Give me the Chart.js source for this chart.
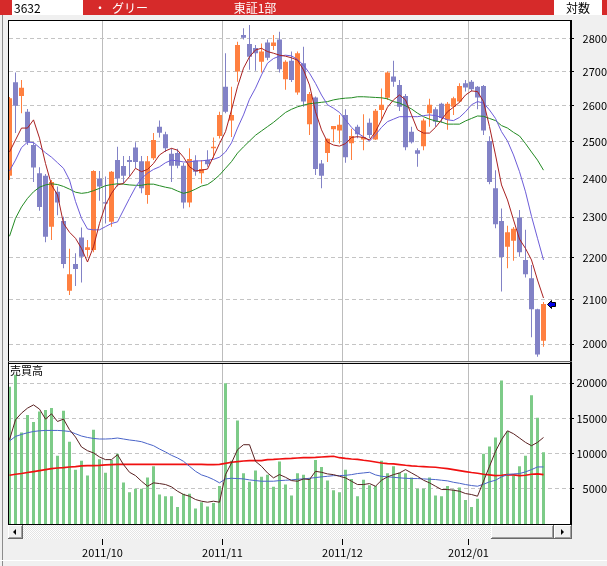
<!DOCTYPE html>
<html><head><meta charset="utf-8">
<style>html,body{margin:0;padding:0;background:#f0f0f0;overflow:hidden}canvas{display:block}</style>
<script src="https://cdn.jsdelivr.net/npm/chart.js@4.4.1/dist/chart.umd.min.js"></script>
</head><body>
<canvas id="c" width="607" height="566"></canvas>
<script>
// ---------- data ----------
const stockCode = '3632';
const stockName = 'グリー';
const marketName = '東証1部';
const scaleMode = '対数';
const volumeTitle = '売買高';

const monthLabels = ['2011/10', '2011/11', '2011/12', '2012/01'];
const monthStartIndex = [16, 36, 56, 77];   // first trading day of each month
const priceTicks = [2000, 2100, 2200, 2300, 2400, 2500, 2600, 2700, 2800];
const volumeTicks = [5000, 10000, 15000, 20000];

const opens = [2407,2668,2628,2583,2490,2414,2407,2276,2365,2290,
2121,2184,2249,2218,2218,2400,2338,2288,2449,2433,
2449,2483,2446,2357,2454,2541,2520,2466,2468,2434,
2337,2447,2414,2449,2481,2515,2655,2558,2700,2811,
2783,2771,2729,2788,2777,2797,2677,2732,2638,2725,
2548,2624,2440,2468,2534,2530,2574,2495,2541,2505,
2552,2505,2588,2623,2685,2660,2628,2527,2476,2487,
2579,2590,2606,2560,2597,2612,2665,2670,2655,2657,
2501,2374,2290,2226,2241,2299,2194,2150,2078,2007];
const highs = [2625,2697,2675,2591,2498,2430,2412,2396,2379,2301,
2221,2210,2274,2243,2422,2420,2405,2420,2485,2460,
2460,2498,2460,2460,2523,2558,2527,2481,2480,2441,
2481,2462,2449,2476,2511,2583,2755,2655,2790,2832,
2842,2780,2785,2797,2811,2821,2734,2760,2760,2775,
2640,2627,2449,2508,2543,2574,2590,2535,2546,2576,
2564,2591,2650,2700,2732,2675,2634,2541,2481,2564,
2620,2596,2609,2611,2626,2665,2675,2675,2657,2660,
2514,2422,2322,2278,2275,2318,2268,2182,2079,2095];
const lows = [2396,2523,2579,2490,2391,2316,2237,2243,2305,2174,
2111,2132,2140,2202,2213,2342,2284,2276,2379,2387,
2405,2427,2361,2334,2449,2511,2471,2391,2427,2322,
2325,2407,2387,2431,2454,2508,2579,2512,2670,2797,
2705,2702,2697,2734,2765,2697,2646,2669,2632,2597,
2518,2409,2374,2444,2498,2494,2442,2449,2509,2476,
2509,2504,2560,2617,2655,2585,2476,2494,2431,2476,
2541,2541,2552,2532,2574,2609,2641,2641,2590,2518,
2385,2272,2119,2174,2192,2202,2152,2015,1972,1994];
const closes = [2622,2600,2652,2498,2429,2326,2251,2391,2337,2184,
2160,2172,2202,2225,2420,2379,2335,2418,2400,2407,
2444,2444,2374,2446,2504,2524,2481,2434,2434,2337,
2452,2418,2425,2438,2485,2574,2583,2574,2780,2802,
2744,2755,2760,2741,2788,2707,2729,2675,2755,2612,
2634,2425,2407,2507,2543,2546,2457,2515,2520,2512,
2518,2586,2603,2697,2670,2597,2484,2498,2466,2558,
2603,2555,2565,2606,2622,2657,2653,2648,2624,2530,
2391,2282,2201,2262,2271,2213,2160,2078,1977,2090];
const volumes = [19500,21200,13000,15500,14500,16000,16200,16500,9700,16100,
11700,7700,9000,6900,13400,9200,7300,9100,10000,5900,
4500,5000,5000,6600,8200,4200,3950,3950,2400,4300,
4300,2200,3100,2500,3000,5400,20000,9000,14700,7200,
6000,7600,6700,7000,5300,8900,5600,4050,7200,7000,
6500,9100,8100,6200,4800,4500,7700,6400,3950,6300,
5500,5400,9000,7200,8200,7300,7200,6600,5000,5000,
6600,4050,3950,5400,4900,5200,3400,2400,3600,10000,
11000,12300,20400,13200,6900,8200,9700,18300,15100,10200];

// moving-average lines
const priceMaShort = [2471,2504,2537,2537,2560,2509,2440,2383,2357,2284,
2262,2247,2222,2189,2226,2284,2331,2361,2383,2387,
2405,2427,2418,2424,2440,2463,2474,2481,2476,2457,
2431,2420,2422,2425,2459,2494,2527,2588,2655,2710,
2744,2765,2770,2760,2755,2749,2746,2741,2734,2705,
2660,2583,2532,2498,2490,2487,2494,2511,2513,2511,
2504,2527,2560,2596,2617,2631,2617,2574,2532,2523,
2523,2539,2560,2583,2596,2610,2631,2643,2641,2612,
2541,2463,2383,2344,2293,2245,2222,2194,2146,2104];
const priceMaMid = [2420,2449,2483,2498,2497,2483,2469,2457,2442,2427,
2396,2340,2297,2270,2268,2268,2276,2284,2288,2318,
2348,2377,2400,2414,2424,2431,2442,2449,2447,2444,
2444,2447,2447,2449,2451,2457,2471,2496,2537,2574,
2619,2651,2690,2725,2739,2746,2749,2747,2736,2719,
2695,2665,2631,2603,2593,2581,2560,2539,2523,2513,
2501,2518,2539,2555,2562,2569,2569,2569,2569,2572,
2574,2572,2567,2560,2558,2567,2583,2603,2612,2608,
2588,2564,2527,2501,2463,2418,2365,2302,2247,2194];
const priceMaLong = [2252,2297,2326,2348,2365,2377,2383,2386,2384,2379,
2372,2364,2361,2363,2368,2374,2381,2384,2386,2385,
2383,2382,2382,2385,2385,2381,2377,2374,2367,2361,
2365,2372,2380,2384,2395,2409,2427,2445,2468,2485,
2501,2517,2529,2541,2553,2567,2581,2590,2597,2602,
2606,2608,2610,2612,2617,2620,2622,2623,2626,2626,
2625,2624,2623,2620,2612,2608,2600,2591,2579,2569,
2562,2557,2554,2548,2548,2548,2557,2564,2571,2570,
2564,2558,2544,2537,2525,2515,2494,2471,2449,2422];
const volMaShort = [11980,14810,15760,16470,16930,16330,14910,15660,14570,14910,
13400,12360,10950,10420,10100,9530,9150,9150,9850,8440,
7350,6880,6080,5370,5850,5750,5610,5280,4660,4190,
3950,3480,3240,3100,3240,3100,7020,8680,10560,11270,
11270,8910,8200,7260,6560,7020,6640,6170,6080,6410,
6320,7490,7350,7120,7020,6780,6560,6080,5610,5610,
5750,5370,6220,6700,7020,7260,7730,7260,6780,6220,
5850,5370,4900,4900,4800,4660,4330,4190,3950,6080,
8200,10320,11980,13250,12830,12220,11600,11130,11600,12300];
const volMaMid = [11800,12450,12730,12970,13150,13250,13300,13300,13300,13250,
13150,12830,12500,12300,12160,12080,12080,12120,12220,12080,
11940,11840,11700,11410,11130,10660,10240,9760,9390,8910,
8200,7490,6980,6700,6320,5850,6410,6500,6460,6410,
6270,6170,6080,6080,6080,6170,6220,6270,6360,6410,
6500,6600,6700,6780,6880,6880,6920,7020,7170,7260,
7350,6980,6780,6700,6640,6560,6500,6460,6460,6410,
6360,6320,6220,6130,5930,5790,5610,5470,5370,5650,
5990,6220,6700,7020,7120,7170,7410,7730,8110,8110];
const volMaLong = [6920,7070,7170,7310,7450,7590,7730,7870,7970,8020,
8110,8160,8260,8300,8300,8340,8400,8440,8480,8480,
8480,8480,8480,8480,8480,8480,8480,8480,8480,8480,
8480,8480,8480,8440,8440,8480,8620,8770,8860,8960,
9010,9010,9010,9150,9190,9250,9290,9330,9390,9430,
9430,9470,9530,9570,9620,9430,9330,9250,9190,9050,
8960,8820,8680,8580,8540,8440,8340,8260,8200,8160,
8110,8060,7970,7870,7730,7590,7450,7310,7210,7070,
6980,6880,6920,7020,6980,6880,6920,7070,7120,7020];

// ---------- styling ----------
const FONT = '"Noto Sans CJK JP", "DejaVu Sans", sans-serif';
const UP = '#FF8040', DOWN = '#8282C6';
const idx = closes.map((_, i) => i);
const candleColor = c => (closes[c.dataIndex] >= opens[c.dataIndex] ? UP : DOWN);
const xy = arr => arr.map((v, i) => ({x: i, y: v}));

const lineDs = (data, color, axis, w) => ({
  type: 'line', data: xy(data), yAxisID: axis, borderColor: color, borderWidth: w,
  pointRadius: 0, tension: 0, fill: false, order: 0
});

// scrollbar track pattern
const pat = (() => {
  const p = document.createElement('canvas'); p.width = 2; p.height = 2;
  const g = p.getContext('2d');
  g.fillStyle = '#FFFFFF'; g.fillRect(0, 0, 2, 2);
  g.fillStyle = '#E4E4E4'; g.fillRect(0, 0, 1, 1); g.fillRect(1, 1, 1, 1);
  return p;
})();

function button(ctx, x, y, w, h) {
  ctx.fillStyle = '#F0F0F0'; ctx.fillRect(x, y, w, h);
  ctx.fillStyle = '#FFFFFF'; ctx.fillRect(x, y, w - 1, 1); ctx.fillRect(x, y, 1, h - 1);
  ctx.fillStyle = '#A0A0A0'; ctx.fillRect(x + 1, y + h - 2, w - 2, 1); ctx.fillRect(x + w - 2, y + 1, 1, h - 2);
  ctx.fillStyle = '#696969'; ctx.fillRect(x, y + h - 1, w, 1); ctx.fillRect(x + w - 1, y, 1, h);
}

const deco = {
  id: 'deco',
  beforeDraw(chart) {
    const {ctx, chartArea: a, scales} = chart;
    const py = scales.y, vy = scales.yv;
    ctx.save();
    ctx.fillStyle = '#F0F0F0'; ctx.fillRect(0, 0, chart.width, chart.height);
    ctx.fillStyle = '#D62A2A'; ctx.fillRect(0, 0, chart.width, 15);
    ctx.fillStyle = '#FFFFFF'; ctx.fillRect(12, 0, 71, 15); ctx.fillRect(554, 0, 48, 15);
    ctx.fillStyle = '#8C8C8C'; ctx.fillRect(2, 15, 1, chart.height - 15);
    ctx.fillStyle = '#FFFFFF'; ctx.fillRect(0, 560, chart.width, 1);
    ctx.fillStyle = '#FFFFFF';
    ctx.fillRect(a.left, py.top, a.right - a.left, py.bottom - py.top);
    ctx.fillRect(a.left, vy.top, a.right - a.left, vy.bottom - vy.top);
    ctx.restore();
  },
  afterDraw(chart) {
    const {ctx, chartArea: a, scales} = chart;
    const py = scales.y, xs = scales.x;
    const L = a.left, R = a.right;
    ctx.save();
    // frames
    ctx.fillStyle = '#000';
    ctx.fillRect(L - 1, a.top - 1, R - L + 3, 1);
    ctx.fillRect(L - 1, a.top - 1, 1, a.bottom - a.top + 2);
    ctx.fillRect(R, a.top - 1, 2, a.bottom - a.top + 2);
    const sep = Math.floor(py.bottom);
    ctx.fillStyle = '#6A6A6A'; ctx.fillRect(L - 1, sep - 1, R - L + 3, 1);
    ctx.fillStyle = '#E6E6E6'; ctx.fillRect(L, sep, R - L, 1);
    ctx.fillStyle = '#000'; ctx.fillRect(L - 1, sep + 1, R - L + 3, 1);
    ctx.fillRect(L - 1, a.bottom, R - L + 3, 1);
    // scrollbar
    const sy = a.bottom + 1, sh = 14;
    ctx.fillStyle = ctx.createPattern(pat, 'repeat'); ctx.fillRect(L - 1, sy, R - L + 3, sh);
    button(ctx, L - 1, sy, 15, sh);
    button(ctx, 491, sy, 63, sh);
    button(ctx, 554, sy, R + 2 - 554, sh);
    ctx.fillStyle = '#000';
    ctx.beginPath(); ctx.moveTo(L + 4, sy + 7); ctx.lineTo(L + 7, sy + 4); ctx.lineTo(L + 7, sy + 10); ctx.closePath(); ctx.fill();
    ctx.beginPath(); ctx.moveTo(564, sy + 7); ctx.lineTo(561, sy + 4); ctx.lineTo(561, sy + 10); ctx.closePath(); ctx.fill();
    // volume title
    ctx.fillStyle = '#000'; ctx.font = '11px ' + FONT; ctx.textBaseline = 'top'; ctx.textAlign = 'left';
    ctx.fillText(volumeTitle, L + 1, sep + 3);
    // last price arrow
    const last = closes.length - 1;
    const tx = xs.getPixelForValue(last) + 4, ty = Math.round(py.getPixelForValue(closes[last])) + 0.5;
    ctx.beginPath();
    ctx.moveTo(tx, ty); ctx.lineTo(tx + 4, ty - 4); ctx.lineTo(tx + 4, ty - 2); ctx.lineTo(tx + 8, ty - 2);
    ctx.lineTo(tx + 8, ty + 2); ctx.lineTo(tx + 4, ty + 2); ctx.lineTo(tx + 4, ty + 4); ctx.closePath();
    ctx.fillStyle = '#0000E8'; ctx.fill(); ctx.strokeStyle = '#000'; ctx.lineWidth = 1; ctx.stroke();
    // header texts
    ctx.font = '12px ' + FONT; ctx.textBaseline = 'middle';
    ctx.fillStyle = '#000'; ctx.fillText(stockCode, 14, 8);
    ctx.fillStyle = '#FFF'; ctx.fillText('・', 94, 8); ctx.fillText(stockName, 112, 8);
    ctx.textAlign = 'center'; ctx.fillText(marketName, 255, 8);
    ctx.fillStyle = '#000'; ctx.fillText(scaleMode, 578, 8);
    ctx.restore();
  }
};

const tickFont = {family: FONT, size: 11};

new Chart(document.getElementById('c'), {
  data: {
    datasets: [
      lineDs(priceMaShort, '#A82020', 'y', 1),
      lineDs(priceMaMid, '#6C5CD8', 'y', 1),
      lineDs(priceMaLong, '#228A22', 'y', 1),
      lineDs(volMaShort, '#5A2222', 'yv', 1),
      lineDs(volMaMid, '#4A64C8', 'yv', 1),
      lineDs(volMaLong, '#F01010', 'yv', 1.6),
      {type: 'bar', data: idx.map(i => ({x: i, y: [opens[i], closes[i]]})), yAxisID: 'y',
       backgroundColor: candleColor, barThickness: 5, maxBarThickness: 5, minBarLength: 1,
       grouped: false, inflateAmount: 0, borderWidth: 0, order: 1},
      {type: 'bar', data: idx.map(i => ({x: i, y: [lows[i], highs[i]]})), yAxisID: 'y',
       backgroundColor: candleColor, barThickness: 1, maxBarThickness: 1,
       grouped: false, inflateAmount: 0, borderWidth: 0, order: 2},
      {type: 'bar', data: xy(volumes), yAxisID: 'yv', backgroundColor: '#7DCB88',
       barThickness: 3, maxBarThickness: 3, grouped: false, inflateAmount: 0, borderWidth: 0, order: 2}
    ]
  },
  options: {
    responsive: false, animation: false, events: [],
    layout: {padding: {left: 9, top: 21, right: 0, bottom: 0}},
    plugins: {legend: {display: false}, tooltip: {enabled: false}},
    scales: {
      x: {
        type: 'linear', position: 'bottom', bounds: 'data', offset: false,
        min: -1 / 12, max: 93.5 - 1 / 12,
        afterBuildTicks: s => { s.ticks = monthStartIndex.map(i => ({value: i - 0.5})); },
        afterFit: s => { s.height = 42; },
        ticks: {autoSkip: false, maxRotation: 0, minRotation: 0, padding: 1, color: '#000', font: tickFont,
          callback: v => { const k = monthStartIndex.indexOf(v + 0.5); return k >= 0 ? monthLabels[k] : ''; }},
        grid: {offset: false, color: '#BCBCBC', lineWidth: 1, drawTicks: true, tickLength: 21, tickColor: '#000', tickWidth: 1},
        border: {display: false}
      },
      y: {
        type: 'logarithmic', position: 'right', stack: 'panes', stackWeight: 341.5, bounds: 'data',
        min: 1959.7, max: 2854.5,
        afterBuildTicks: s => { s.ticks = priceTicks.map(v => ({value: v})); },
        afterFit: s => { s.width = 37; },
        ticks: {crossAlign: 'far', padding: 9, color: '#000', font: tickFont, autoSkip: false, callback: v => String(v)},
        grid: {color: '#C4C4C4', lineWidth: 1, drawTicks: true, tickLength: 4, tickColor: '#000', tickBorderDash: []},
        border: {display: false, dash: [4, 3]}
      },
      yv: {
        type: 'linear', position: 'right', stack: 'panes', stackWeight: 161.5, bounds: 'data',
        min: 0, max: 22956,
        afterBuildTicks: s => { s.ticks = volumeTicks.map(v => ({value: v})); },
        afterFit: s => { s.width = 37; },
        ticks: {crossAlign: 'far', padding: 3, color: '#000', font: tickFont, autoSkip: false, callback: v => String(v)},
        grid: {color: '#C4C4C4', lineWidth: 1, drawTicks: true, tickLength: 4, tickColor: '#000', tickBorderDash: []},
        border: {display: false, dash: [4, 3]}
      }
    }
  },
  plugins: [deco]
});
</script>
</body></html>
